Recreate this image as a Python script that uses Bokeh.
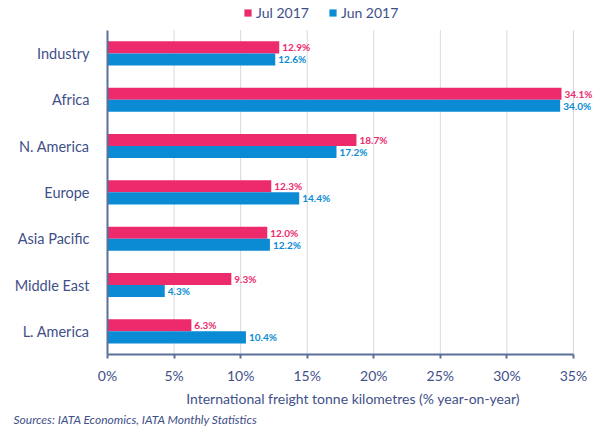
from bokeh.plotting import figure
from bokeh.models import (ColumnDataSource, Range1d, FixedTicker, PrintfTickFormatter,
                          Legend, LegendItem, Title)
from bokeh.transform import dodge
from bokeh.core.properties import value
from bokeh.embed import file_html
from bokeh.resources import INLINE

regions = ["Industry", "Africa", "N. America", "Europe", "Asia Pacific", "Middle East", "L. America"]
jul_2017 = [12.9, 34.1, 18.7, 12.3, 12.0, 9.3, 6.3]
jun_2017 = [12.6, 34.0, 17.2, 14.4, 12.2, 4.3, 10.4]
x_ticks = [0, 5, 10, 15, 20, 25, 30, 35]

PINK = "#EC2A6C"
BLUE = "#0A8BD4"
TXT = "#3F5089"
AXIS = "#5A6F99"
FONT = "Lato"

n = len(regions)
ypos = [n - 1 - i for i in range(n)]  # Industry at top

src = ColumnDataSource(dict(
    y=ypos,
    region=regions,
    jul=jul_2017,
    jun=jun_2017,
    jul_lbl=[f"{v:.1f}%" for v in jul_2017],
    jun_lbl=[f"{v:.1f}%" for v in jun_2017],
))

p = figure(width=598, height=427, output_backend="svg", toolbar_location=None,
           x_range=Range1d(0, 36.88), y_range=Range1d(-0.5, n - 0.5 + 0.642),
           min_border_left=107, min_border_right=0, min_border_top=0, min_border_bottom=70)

# vertical gridlines limited to the category area
gx = x_ticks[1:]
p.segment(x0=gx, x1=gx, y0=[-0.5] * len(gx), y1=[n - 0.5] * len(gx),
          line_color="#D9D9D9", line_width=1)

r_jul = p.hbar(y=dodge("y", 0.13), right="jul", left=0, height=0.26,
               source=src, fill_color=PINK, line_color=None)
r_jun = p.hbar(y=dodge("y", -0.13), right="jun", left=0, height=0.26,
               source=src, fill_color=BLUE, line_color=None)

p.text(x="jul", y=dodge("y", 0.13), text="jul_lbl", source=src,
       x_offset=3, text_baseline="middle", text_align="left", text_color=PINK,
       text_font=value(FONT), text_font_size="10px", text_font_style="bold")
p.text(x="jun", y=dodge("y", -0.13), text="jun_lbl", source=src,
       x_offset=3, text_baseline="middle", text_align="left", text_color=BLUE,
       text_font=value(FONT), text_font_size="10px", text_font_style="bold")

p.outline_line_color = None
p.xgrid.grid_line_color = None
p.ygrid.grid_line_color = None

p.xaxis.ticker = FixedTicker(ticks=x_ticks)
p.xaxis.bounds = (x_ticks[0], x_ticks[-1])
p.xaxis.formatter = PrintfTickFormatter(format="%d%%")
p.xaxis.axis_label = "International freight tonne kilometres (% year-on-year)"
p.xaxis.axis_label_text_font = FONT
p.xaxis.axis_label_text_font_style = "normal"
p.xaxis.axis_label_text_font_size = "14px"
p.xaxis.axis_label_text_color = TXT
p.xaxis.axis_label_standoff = 3
p.xaxis.major_label_text_font = FONT
p.xaxis.major_label_text_font_size = "14px"
p.xaxis.major_label_text_color = TXT
p.xaxis.major_label_standoff = 8
p.xaxis.axis_line_color = AXIS
p.xaxis.axis_line_width = 2
p.xaxis.major_tick_line_color = AXIS
p.xaxis.major_tick_line_width = 2
p.xaxis.major_tick_out = 4
p.xaxis.major_tick_in = 0
p.xaxis.minor_tick_line_color = None

p.yaxis.ticker = FixedTicker(ticks=ypos)
p.yaxis.bounds = (-0.5, n - 0.5)
p.yaxis.major_label_overrides = {yv: name for yv, name in zip(ypos, regions)}
p.yaxis.major_label_text_font = FONT
p.yaxis.major_label_text_font_size = "14.5px"
p.yaxis.major_label_text_font_style = "normal"
p.yaxis.major_label_text_color = TXT
p.yaxis.axis_line_color = AXIS
p.yaxis.axis_line_width = 2
p.yaxis.major_tick_line_color = None
p.yaxis.minor_tick_line_color = None
p.yaxis.major_label_standoff = 12

legend = Legend(items=[LegendItem(label="Jul 2017", renderers=[r_jul]),
                       LegendItem(label="Jun 2017", renderers=[r_jun])],
                orientation="horizontal", location=(136, 333),
                glyph_width=9, glyph_height=9, label_standoff=4, spacing=19,
                label_text_font=FONT, label_text_font_size="14px", label_text_color=TXT,
                border_line_color=None, background_fill_alpha=0, padding=0, margin=0)
p.add_layout(legend)

src_title = Title(text="Sources: IATA Economics, IATA Monthly Statistics", align="left",
                  text_font=FONT, text_font_size="12px", text_font_style="italic",
                  text_color=TXT, offset=-94, standoff=1)
p.add_layout(src_title, "below")

open("out.html", "w").write(file_html(p, INLINE))
